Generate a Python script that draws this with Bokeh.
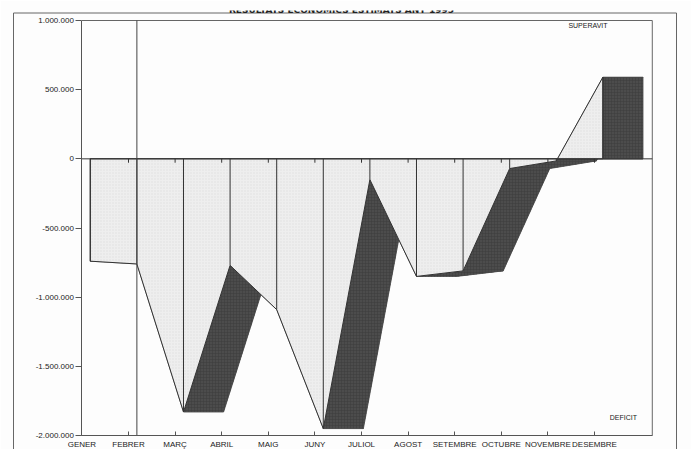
from bokeh.plotting import figure
from bokeh.models import Label, FixedTicker
from bokeh.embed import file_html
from bokeh.resources import INLINE

# ---- data ----
months = ["GENER", "FEBRER", "MARÇ", "ABRIL", "MAIG", "JUNY", "JULIOL",
          "AGOST", "SETEMBRE", "OCTUBRE", "NOVEMBRE", "DESEMBRE"]
resultat = [-740000, -760000, -1830000, -770000, -1090000, -1950000, -150000,
            -850000, -810000, -70000, -15000, 590000]
y_ticks = [-2000000, -1500000, -1000000, -500000, 0, 500000, 1000000]
y_tick_labels = ["-2.000.000", "-1.500.000", "-1.000.000", "-500.000", "0",
                 "500.000", "1.000.000"]
title_text = "RESULTATS ECONÒMICS ESTIMATS ANY 1995"
label_sup = "SUPERAVIT"
label_def = "DEFICIT"

# ---- style / layout constants ----
FRONT = 0.18      # front face offset (category units)
DEPTH = 0.86      # 3D depth offset (category units)
X_END = 12.24     # right end of the inner plot box
Y_MIN, Y_MAX = -2000000, 1000000
Y_LO, Y_HI = -2101200, 1072290   # visible range of the outer frame
X_LO, X_HI = -1.4893, 12.8026
FONT = "Liberation Sans"
LIGHT = "#eeeeee"
DARK = "#4c4c4c"
INK = "#333333"
FRAME = "#666666"

n = len(months)
xf = [i + FRONT for i in range(n)]

p = figure(width=691, height=449, output_backend="svg", toolbar_location=None,
           x_range=(X_LO, X_HI), y_range=(Y_LO, Y_HI),
           min_border_left=12, min_border_right=13,
           min_border_top=10, min_border_bottom=0,
           background_fill_color="#fdfdfd", border_fill_color="#fdfdfd")
p.grid.visible = False
p.outline_line_color = None

# outer page box (left, right, top)
ob_l, ob_r, ob_t = -1.468, 12.76, 1054200
p.segment(x0=[ob_l, ob_r, ob_l], y0=[Y_LO, Y_LO, ob_t],
          x1=[ob_l, ob_r, ob_r], y1=[ob_t, ob_t, ob_t],
          line_color=FRAME, line_width=1)

# inner plot box (top, right)
p.segment(x0=[0, X_END], y0=[Y_MAX, Y_MIN], x1=[X_END, X_END], y1=[Y_MAX, Y_MAX],
          line_color=FRAME, line_width=1)

# front polygon
px = [xf[0]] + xf + [xf[-1]]
py = [0] + resultat + [0]

# extruded region: shifted polygon + every edge swept by DEPTH
dxs, dys = [[x + DEPTH for x in px]], [list(py)]
m = len(px)
for k in range(m):
    a, b = k, (k + 1) % m
    dxs.append([px[a], px[b], px[b] + DEPTH, px[a] + DEPTH])
    dys.append([py[a], py[b], py[b], py[a]])
p.patches(dxs, dys, fill_color=DARK, line_color=DARK, line_width=0.5,
          hatch_pattern="cross", hatch_color="#3c3c3c", hatch_scale=3,
          hatch_weight=0.5)

# front face
p.patch(px, py, fill_color=LIGHT, line_color=INK, line_width=1,
        hatch_pattern="dot", hatch_color="#dddddd", hatch_scale=3,
        hatch_weight=0.5)

# vertical month lines on the front face
p.segment(x0=xf, y0=[0] * n, x1=xf, y1=resultat, line_color=INK, line_width=1)

# zero line with its small ticks
p.segment(x0=[0], y0=[0], x1=[X_END], y1=[0], line_color=INK, line_width=1)
tick_len = 28000
p.segment(x0=list(range(1, n)), y0=[0] * (n - 1), x1=list(range(1, n)),
          y1=[-tick_len] * (n - 1), line_color=INK, line_width=1)

# long vertical line at FEBRER
p.segment(x0=[xf[1]], y0=[Y_MIN], x1=[xf[1]], y1=[Y_MAX],
          line_color="#444444", line_width=1)

# axes (placed inside the frame at fixed data locations)
p.xaxis.fixed_location = Y_MIN
p.xaxis.bounds = (0, X_END)
p.xaxis.ticker = FixedTicker(ticks=list(range(n)))
p.xaxis.major_label_overrides = {i: months[i] for i in range(n)}
p.xaxis.major_tick_in = 4
p.xaxis.major_tick_out = 0
p.xaxis.minor_tick_line_color = None
p.xaxis.major_label_standoff = 4
p.xaxis.major_label_text_font = FONT
p.xaxis.major_label_text_font_size = "8px"
p.xaxis.major_label_text_color = "#222222"
p.xaxis.axis_line_color = "#555555"
p.xaxis.major_tick_line_color = "#555555"

p.yaxis.fixed_location = 0
p.yaxis.bounds = (Y_MIN, Y_MAX)
p.yaxis.ticker = FixedTicker(ticks=y_ticks)
p.yaxis.major_label_overrides = {t: l for t, l in zip(y_ticks, y_tick_labels)}
p.yaxis.major_tick_in = 0
p.yaxis.major_tick_out = 6
p.yaxis.minor_tick_line_color = None
p.yaxis.major_label_standoff = 2
p.yaxis.major_label_text_font = FONT
p.yaxis.major_label_text_font_size = "8px"
p.yaxis.major_label_text_color = "#222222"
p.yaxis.axis_line_color = "#555555"
p.yaxis.major_tick_line_color = "#555555"

# annotations
p.add_layout(Label(x=10.86, y=963800, text=label_sup, text_align="center",
                   text_baseline="middle", text_font=FONT,
                   text_font_size="7px", text_color="#222222"))
p.add_layout(Label(x=11.62, y=-1869900, text=label_def, text_align="center",
                   text_baseline="middle", text_font=FONT,
                   text_font_size="7px", text_color="#222222"))
p.add_layout(Label(x=5.57, y=1079500, text=title_text, text_align="center",
                   text_baseline="alphabetic", text_font="DejaVu Sans",
                   text_font_size="9px", text_font_style="bold",
                   text_color="#222222"))

open("out.html", "w").write(file_html(p, INLINE))
